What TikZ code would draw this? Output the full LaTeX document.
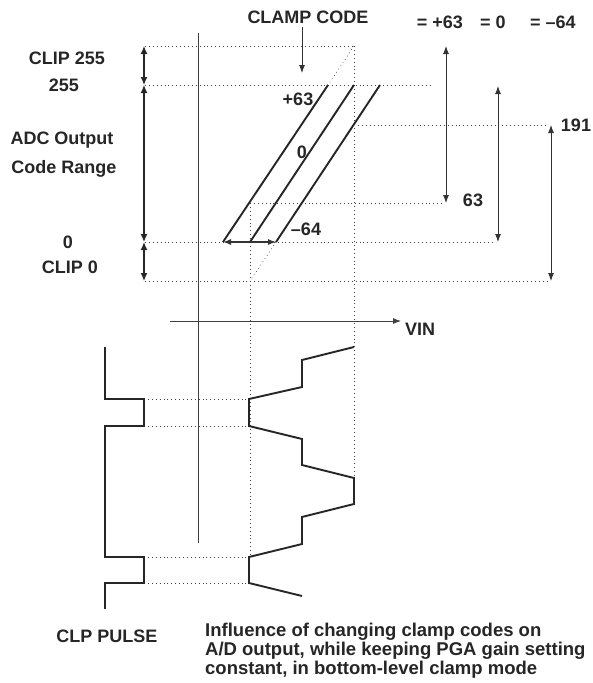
\documentclass[tikz,border=0pt]{standalone}
\usepackage{fontspec}
\setmainfont{Liberation Sans}
\usetikzlibrary{arrows.meta}
\begin{document}
\begin{tikzpicture}[x=1pt,y=-1pt,
  lbl/.style={font=\bfseries\fontsize{18}{19}\selectfont, inner sep=0pt, text=black!85},
  dots/.style={draw=black!75, line width=0.7pt, dash pattern=on 0.7pt off 3.2pt},
  axis/.style={draw=black!75, line width=0.8pt},
  wave/.style={draw=black!85, line width=1.9pt},
  dimthick/.style={draw=black!85, line width=1.3pt, {Latex[length=8pt,width=7pt]}-{Latex[length=8pt,width=7pt]}},
  dimthin/.style={draw=black!80, line width=0.9pt, {Latex[length=8pt,width=6pt]}-{Latex[length=8pt,width=6pt]}},
  onearrow/.style={draw=black!80, line width=0.9pt, -{Latex[length=8pt,width=6pt]}}]
\useasboundingbox (0,0) rectangle (592,683);
% ---- coordinates
\coordinate (a46) at (145,46);   \coordinate (b46) at (354,46);
\coordinate (a85) at (145,85);   \coordinate (b85) at (432,85);
\coordinate (a125) at (358,125); \coordinate (b125) at (548,125);
\coordinate (a203) at (250,203); \coordinate (b203) at (443,203);
\coordinate (a242) at (145,242); \coordinate (b242) at (496,242);
\coordinate (a281) at (145,281); \coordinate (b281) at (549,281);
\coordinate (v354b) at (354,480);
\coordinate (v250b) at (250,557);
% ---- dotted guides
\draw[dots] (a46) -- (b46);
\draw[dots] (a85) -- (b85);
\draw[dots] (a125) -- (b125);
\draw[dots] (a203) -- (b203);
\draw[dots] (a242) -- (b242);
\draw[dots] (a281) -- (b281);
\draw[dots] (b46) -- (v354b);
\draw[dots] (a203) -- (v250b);
\draw[dots] (b46) -- (328,85);
\draw[dots] (276,242) -- (250,281);
\draw[dots] (144,399) -- (249,399);
\draw[dots] (144,426) -- (249,426);
\draw[dots] (144,557) -- (249,557);
\draw[dots] (144,583) -- (249,583);
% ---- axes
\coordinate (vt) at (198,33); \coordinate (vb) at (198,543);
\draw[axis] (vt) -- (vb);
\coordinate (hl) at (170,321);
\node[lbl, anchor=west] (vin) at (405,329) {VIN};
\draw[axis, -{Latex[length=8pt,width=6pt]}] (hl) -- (401,321);
% ---- transfer lines
\coordinate (p63a) at (223,242); \coordinate (p63b) at (328,85);
\coordinate (p0a) at (250,242);  \coordinate (p0b) at (354,85);
\coordinate (m64a) at (276,242); \coordinate (m64b) at (380,85);
\draw[wave] (p63a) -- (p63b);
\draw[wave] (p0a) -- (p0b);
\draw[wave] (m64a) -- (m64b);
\draw[dimthin, line width=1.1pt] (p63a) -- (m64a);
\node[lbl] (l63) at (298,99) {+63};
\node[lbl] (l0) at (302,152) {0};
\node[lbl] (lm64) at (306,229) {\char"2013 64};
% ---- clamp code
\node[lbl] (cc) at (308,17) {CLAMP CODE};
\draw[onearrow] (302,27) -- (302,73);
\node[lbl] (e63) at (440,22) {= +63};
\node[lbl] (e0) at (493,22) {= 0};
\node[lbl] (em64) at (553,22) {= \char"2013 64};
% ---- right dimension arrows
\draw[dimthin] (446,46) -- (446,203);
\draw[dimthin] (498,86) -- (498,242);
\draw[dimthin] (551,125) -- (551,281);
\node[lbl] (r63) at (473,200) {63};
\node[lbl] (r191) at (576,125) {191};
% ---- left dimension arrows
\draw[dimthick] (144,46) -- (144,85);
\draw[dimthick] (144,85) -- (144,242);
\draw[dimthick] (144,242) -- (144,281);
\node[lbl] (c255) at (67,58) {CLIP 255};
\node[lbl] (v255) at (64,85) {255};
\node[lbl] (adc1) at (62,140) {ADC Output};
\node[lbl] (adc2) at (64,169) {Code Range};
\node[lbl] (v0) at (68,242) {0};
\node[lbl] (c0) at (70,267) {CLIP 0};
% ---- CLP pulse
\draw[wave, line join=miter] (105,347) -- (105,399) -- (144,399) -- (144,426) -- (105,426)
  -- (105,557) -- (144,557) -- (144,583) -- (105,583) -- (105,609);
\node[lbl] (clp) at (107,636) {CLP PULSE};
% ---- video waveform
\draw[wave, line join=miter] (354,347) -- (302,360) -- (302,387) -- (249,399) -- (249,426)
  -- (302,439) -- (302,465) -- (354,478) -- (354,504) -- (302,517) -- (302,544)
  -- (249,557) -- (249,583) -- (302,596);
% ---- caption
\node[lbl, anchor=north west, align=left, font=\bfseries\fontsize{18.5}{19}\selectfont] (cap) at (205,622.5)
  {Influence of changing clamp codes on\\A/D output, while keeping PGA gain setting\\constant, in bottom-level clamp mode};
\end{tikzpicture}
\end{document}
